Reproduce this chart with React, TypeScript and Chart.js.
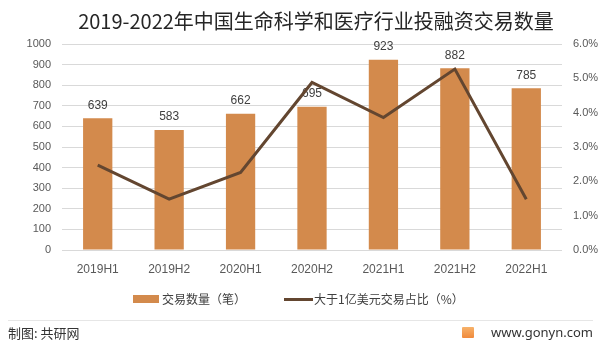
import React, { useEffect, useRef } from "react";
import { Chart, registerables } from "chart.js";

Chart.register(...registerables);

const categories = ["2019H1", "2019H2", "2020H1", "2020H2", "2021H1", "2021H2", "2022H1"];
const dealCounts = [639, 583, 662, 695, 923, 882, 785];
const bigDealShare = [2.47, 1.48, 2.26, 4.88, 3.86, 5.27, 1.48];

const titleText = "2019-2022年中国生命科学和医疗行业投融资交易数量";
const barLabel = "交易数量（笔）";
const lineLabel = "大于1亿美元交易占比（%）";

const BAR_COLOR = "#D38A4C";
const LINE_COLOR = "#634630";
const TICK_COLOR = "#595959";
const FONT = "'Liberation Sans', Arial, sans-serif";
const CJK = "'Noto Sans CJK SC', 'Noto Sans', sans-serif";

const barLabelsPlugin = {
  id: "barLabels",
  afterDatasetDraw(chart: any, args: any) {
    if (args.index !== 0) return;
    const ctx = chart.ctx;
    const meta = chart.getDatasetMeta(0);
    ctx.save();
    ctx.font = "12px " + FONT;
    ctx.fillStyle = "#404040";
    ctx.textAlign = "center";
    ctx.textBaseline = "middle";
    meta.data.forEach((el: any, i: number) => {
      ctx.fillText(String(chart.data.datasets[0].data[i]), el.x, el.y - 13);
    });
    ctx.restore();
  },
};

function ChartCanvas() {
  const ref = useRef<HTMLCanvasElement | null>(null);
  useEffect(() => {
    if (!ref.current) return;
    const chart = new Chart(ref.current, {
      type: "bar",
      data: {
        labels: categories,
        datasets: [
          {
            type: "bar",
            label: barLabel,
            data: dealCounts,
            backgroundColor: BAR_COLOR,
            yAxisID: "y",
            order: 2,
            barPercentage: 0.82,
            categoryPercentage: 0.5,
          } as any,
          {
            type: "line",
            label: lineLabel,
            data: bigDealShare,
            borderColor: LINE_COLOR,
            backgroundColor: LINE_COLOR,
            borderWidth: 3,
            pointRadius: 0,
            tension: 0,
            yAxisID: "y1",
            order: 1,
          } as any,
        ],
      },
      options: {
        animation: false,
        responsive: false,
        maintainAspectRatio: false,
        layout: { padding: { top: 44, bottom: 65, left: 0, right: 0 } },
        plugins: { legend: { display: false }, tooltip: { enabled: false }, title: { display: false } },
        scales: {
          x: {
            grid: { display: false, drawTicks: false },
            border: { display: false },
            ticks: { font: { size: 12, family: FONT }, color: TICK_COLOR, padding: 12 },
            afterFit: (s: any) => { s.height = 30; },
          },
          y: {
            position: "left",
            min: 0,
            max: 1000,
            ticks: {
              stepSize: 100,
              font: { size: 11, family: FONT },
              color: TICK_COLOR,
              padding: 11,
              callback: (v: any) => String(v),
            },
            grid: { color: "#D9D9D9", drawTicks: false },
            border: { display: false },
            afterFit: (s: any) => { s.width = 62; },
          },
          y1: {
            position: "right",
            min: 0,
            max: 6,
            ticks: {
              stepSize: 1,
              font: { size: 11, family: FONT },
              color: TICK_COLOR,
              padding: 11,
              callback: (v: any) => Number(v).toFixed(1) + "%",
            },
            grid: { display: false, drawTicks: false },
            border: { display: false },
            afterFit: (s: any) => { s.width = 39; },
          },
        },
      } as any,
      plugins: [barLabelsPlugin],
    });
    return () => chart.destroy();
  }, []);
  return <canvas ref={ref} width={601} height={345} style={{ position: "absolute", left: 0, top: 0, width: 601, height: 345 }} />;
}

export default function App() {
  const abs = (o: any) => ({ position: "absolute" as const, ...o });
  return (
    <div style={{ position: "fixed", left: 0, top: 0, width: 601, height: 345, background: "#fff", overflow: "hidden" }}>
      <ChartCanvas />
      <div style={abs({ left: 0, width: 632, top: 7, textAlign: "center", fontFamily: CJK, fontSize: 20, lineHeight: "28px", color: "#262626", whiteSpace: "nowrap" })}>
        {titleText}
      </div>
      <div style={abs({ left: 133, top: 295, width: 26, height: 8, background: BAR_COLOR })} />
      <div style={abs({ left: 162, top: 291, fontFamily: CJK, fontSize: 12, lineHeight: "16px", color: "#404040", whiteSpace: "nowrap" })}>{barLabel}</div>
      <div style={abs({ left: 284, top: 298, width: 29, height: 3, background: LINE_COLOR })} />
      <div style={abs({ left: 314, top: 291, fontFamily: CJK, fontSize: 12, lineHeight: "16px", color: "#404040", whiteSpace: "nowrap" })}>{lineLabel}</div>
      <div style={abs({ left: 8, top: 320, width: 585, height: 1, background: "#E6E6E6" })} />
      <div style={abs({ left: 8, top: 324, fontFamily: CJK, fontSize: 13, lineHeight: "18px", color: "#333", whiteSpace: "nowrap" })}>制图: 共研网</div>
      <div style={abs({ left: 462, top: 327, width: 12, height: 11, background: "linear-gradient(180deg,#F7B26A,#F08A3C)", borderRadius: 1 })} />
      <div style={abs({ right: 8, top: 323, fontFamily: "'Noto Sans', sans-serif", fontSize: 13, lineHeight: "18px", color: "#333", whiteSpace: "nowrap" })}>www.gonyn.com</div>
    </div>
  );
}
